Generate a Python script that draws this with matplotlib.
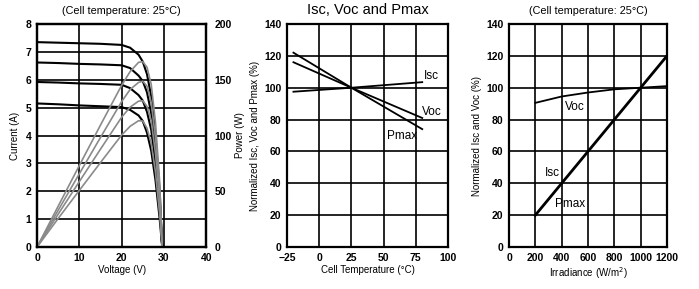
import matplotlib
matplotlib.use('Agg')
import matplotlib.pyplot as plt

plt.rcParams['font.family'] = ['Liberation Sans', 'DejaVu Sans']

# --- panel 1: I-V curves (current in A) at four irradiance levels ---
voltage = [0, 5, 10, 15, 20, 22, 24, 25, 26, 27, 28, 29, 29.6]
current_1 = [7.35, 7.33, 7.31, 7.29, 7.25, 7.15, 6.90, 6.65, 6.20, 5.40, 4.00, 2.00, 0.0]
current_2 = [6.62, 6.60, 6.57, 6.55, 6.52, 6.42, 6.15, 5.95, 5.55, 4.80, 3.50, 1.70, 0.0]
current_3 = [5.92, 5.90, 5.87, 5.85, 5.82, 5.70, 5.45, 5.25, 4.85, 4.20, 3.00, 1.40, 0.0]
current_4 = [5.15, 5.12, 5.08, 5.05, 5.02, 4.92, 4.72, 4.52, 4.10, 3.45, 2.40, 1.00, 0.0]
iv_curves = [current_1, current_2, current_3, current_4]

# --- panel 2: temperature coefficients (% of 25 C value) ---
temp = [-20, 25, 80]
isc_temp = [97.5, 100, 103.5]
voc_temp = [116, 100, 81]
pmax_temp = [122, 100, 74]

# --- panel 3: irradiance dependence ---
irradiance = [200, 400, 600, 800, 1000, 1200]
isc_irr = [20, 40, 60, 80, 100, 120]
voc_irr = [90.5, 94.5, 97, 99, 100, 101]

fig = plt.figure(figsize=(6.99, 2.89), dpi=100)
ax1 = fig.add_axes([0.053, 0.1453, 0.242, 0.7716])
ax2 = fig.add_axes([0.4106, 0.1453, 0.2303, 0.7716])
ax3 = fig.add_axes([0.7282, 0.1453, 0.226, 0.7716])

TICK_SIZE = 7.5
LABEL_SIZE = 7


def fmt_ticks(ax):
    for lab in ax.get_xticklabels() + ax.get_yticklabels():
        lab.set_fontsize(TICK_SIZE)
        lab.set_fontweight('bold')


def style(ax):
    ax.grid(True, color='black', linewidth=1.2)
    ax.set_axisbelow(True)
    for s in ax.spines.values():
        s.set_linewidth(1.6)
    ax.tick_params(length=0, pad=4)
    fmt_ticks(ax)


# panel 1
ax1.set_xlim(0, 40)
ax1.set_ylim(0, 8)
ax1.set_xticks([0, 10, 20, 30, 40])
ax1.set_yticks(range(0, 9))
style(ax1)
ax1r = ax1.twinx()
ax1r.set_ylim(0, 200)
ax1r.set_yticks([0, 50, 100, 150, 200])
ax1r.tick_params(length=0, pad=6)
fmt_ticks(ax1r)
for s in ax1r.spines.values():
    s.set_linewidth(1.6)
for cur in iv_curves:
    power = [v * i for v, i in zip(voltage, cur)]
    ax1r.plot(voltage, power, color='#8a8a8a', linewidth=1.2)
    ax1.plot(voltage, cur, color='black', linewidth=1.5, zorder=3)
ax1.set_xlabel('Voltage (V)', fontsize=LABEL_SIZE, labelpad=2)
ax1.set_ylabel('Current (A)', fontsize=LABEL_SIZE, labelpad=4)
ax1r.set_ylabel('Power (W)', fontsize=LABEL_SIZE, labelpad=2)
ax1.set_title('(Cell temperature: 25°C)', fontsize=7.8, pad=7)

# panel 2
ax2.set_xlim(-25, 100)
ax2.set_ylim(0, 140)
ax2.set_xticks([-25, 0, 25, 50, 75, 100])
ax2.set_xticklabels(['\u221225', '0', '25', '50', '75', '100'])
ax2.set_yticks(range(0, 141, 20))
style(ax2)
ax2.plot(temp, isc_temp, color='black', linewidth=1.3)
ax2.plot(temp, voc_temp, color='black', linewidth=1.3)
ax2.plot(temp, pmax_temp, color='black', linewidth=1.3)
ax2.text(81, 107.5, 'Isc', fontsize=8.5, ha='left', va='center')
ax2.text(80, 84.5, 'Voc', fontsize=8.5, ha='left', va='center')
ax2.text(52.5, 69.5, 'Pmax', fontsize=8.5, ha='left', va='center')
ax2.set_xlabel('Cell Temperature (°C)', fontsize=LABEL_SIZE, labelpad=2)
ax2.set_ylabel('Normalized Isc, Voc and Pmax (%)', fontsize=LABEL_SIZE, labelpad=3)
ax2.set_title('Isc, Voc and Pmax', fontsize=10.5, pad=7)

# panel 3
ax3.set_xlim(0, 1200)
ax3.set_ylim(0, 140)
ax3.set_xticks(range(0, 1201, 200))
ax3.set_yticks(range(0, 141, 20))
style(ax3)
ax3.plot(irradiance, isc_irr, color='black', linewidth=2)
ax3.plot(irradiance, voc_irr, color='black', linewidth=1.3)
ax3.text(425, 88, 'Voc', fontsize=8.5, ha='left', va='center')
ax3.text(273, 46.5, 'Isc', fontsize=8.5, ha='left', va='center')
ax3.text(349, 27, 'Pmax', fontsize=8.5, ha='left', va='center')
ax3.set_xlabel('Irradiance (W/m$^2$)', fontsize=LABEL_SIZE, labelpad=2)
ax3.set_ylabel('Normalized Isc and Voc (%)', fontsize=LABEL_SIZE, labelpad=3)
ax3.set_title('(Cell temperature: 25°C)', fontsize=7.8, pad=7)

fig.savefig('out.png', dpi=100)
